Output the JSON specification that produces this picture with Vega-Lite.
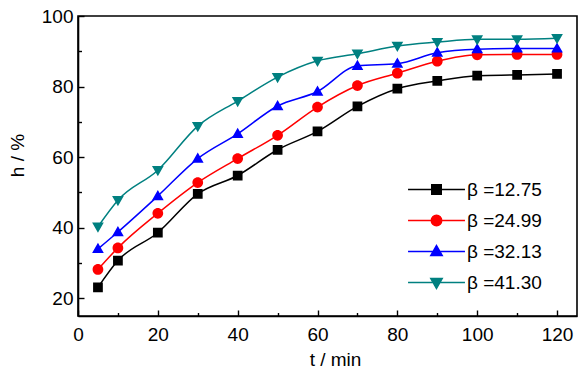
{
  "$schema": "https://vega.github.io/schema/vega-lite/v6.json",
  "autosize": {"type": "none"},
  "padding": {"left": 78, "top": 16, "right": 7, "bottom": 57},
  "width": 499,
  "height": 300,
  "background": "white",
  "config": {
    "font": "Liberation Sans",
    "view": {"stroke": "black", "strokeWidth": 1.6},
    "axis": {
      "labelFont": "Liberation Sans",
      "titleFont": "Liberation Sans",
      "labelFontSize": 19,
      "titleFontSize": 19,
      "titleFontWeight": "normal",
      "labelColor": "black",
      "titleColor": "black",
      "domainColor": "black",
      "domainWidth": 1.6,
      "tickColor": "black",
      "tickWidth": 1.4,
      "grid": false,
      "labelFlush": false,
      "labelOverlap": false
    },
    "legend": {
      "labelFont": "Liberation Sans",
      "labelFontSize": 19,
      "labelColor": "black"
    }
  },
  "data": {
    "values": [
      {"t": 5, "h": 23.1, "s": "β =12.75"},
      {"t": 10, "h": 30.7, "s": "β =12.75"},
      {"t": 20, "h": 38.6, "s": "β =12.75"},
      {"t": 30, "h": 49.6, "s": "β =12.75"},
      {"t": 40, "h": 54.8, "s": "β =12.75"},
      {"t": 50, "h": 62.1, "s": "β =12.75"},
      {"t": 60, "h": 67.3, "s": "β =12.75"},
      {"t": 70, "h": 74.4, "s": "β =12.75"},
      {"t": 80, "h": 79.4, "s": "β =12.75"},
      {"t": 90, "h": 81.6, "s": "β =12.75"},
      {"t": 100, "h": 83.1, "s": "β =12.75"},
      {"t": 110, "h": 83.3, "s": "β =12.75"},
      {"t": 120, "h": 83.6, "s": "β =12.75"},
      {"t": 5, "h": 28.2, "s": "β =24.99"},
      {"t": 10, "h": 34.3, "s": "β =24.99"},
      {"t": 20, "h": 44.1, "s": "β =24.99"},
      {"t": 30, "h": 52.8, "s": "β =24.99"},
      {"t": 40, "h": 59.6, "s": "β =24.99"},
      {"t": 50, "h": 66.2, "s": "β =24.99"},
      {"t": 60, "h": 74.2, "s": "β =24.99"},
      {"t": 70, "h": 80.3, "s": "β =24.99"},
      {"t": 80, "h": 83.8, "s": "β =24.99"},
      {"t": 90, "h": 87.2, "s": "β =24.99"},
      {"t": 100, "h": 89.0, "s": "β =24.99"},
      {"t": 110, "h": 89.1, "s": "β =24.99"},
      {"t": 120, "h": 89.1, "s": "β =24.99"},
      {"t": 5, "h": 34.0, "s": "β =32.13"},
      {"t": 10, "h": 38.8, "s": "β =32.13"},
      {"t": 20, "h": 49.0, "s": "β =32.13"},
      {"t": 30, "h": 59.6, "s": "β =32.13"},
      {"t": 40, "h": 66.6, "s": "β =32.13"},
      {"t": 50, "h": 74.5, "s": "β =32.13"},
      {"t": 60, "h": 78.6, "s": "β =32.13"},
      {"t": 70, "h": 85.9, "s": "β =32.13"},
      {"t": 80, "h": 86.5, "s": "β =32.13"},
      {"t": 90, "h": 89.6, "s": "β =32.13"},
      {"t": 100, "h": 90.6, "s": "β =32.13"},
      {"t": 110, "h": 90.8, "s": "β =32.13"},
      {"t": 120, "h": 90.8, "s": "β =32.13"},
      {"t": 5, "h": 40.3, "s": "β =41.30"},
      {"t": 10, "h": 47.8, "s": "β =41.30"},
      {"t": 20, "h": 56.3, "s": "β =41.30"},
      {"t": 30, "h": 68.8, "s": "β =41.30"},
      {"t": 40, "h": 75.9, "s": "β =41.30"},
      {"t": 50, "h": 82.7, "s": "β =41.30"},
      {"t": 60, "h": 87.3, "s": "β =41.30"},
      {"t": 70, "h": 89.3, "s": "β =41.30"},
      {"t": 80, "h": 91.5, "s": "β =41.30"},
      {"t": 90, "h": 92.6, "s": "β =41.30"},
      {"t": 100, "h": 93.4, "s": "β =41.30"},
      {"t": 110, "h": 93.4, "s": "β =41.30"},
      {"t": 120, "h": 93.7, "s": "β =41.30"}
    ]
  },
  "resolve": {"axis": {"x": "independent", "y": "independent"}},
  "layer": [
    {
      "mark": {"type": "line", "interpolate": "monotone", "strokeWidth": 1.5},
      "encoding": {
        "x": {
          "field": "t",
          "type": "quantitative",
          "scale": {"domain": [0, 125], "nice": false, "zero": false},
          "axis": {
            "orient": "bottom",
            "title": "t / min",
            "values": [0, 20, 40, 60, 80, 100, 120],
            "ticks": false,
            "labelPadding": 9,
            "titlePadding": 6,
            "titleX": 257
          }
        },
        "y": {
          "field": "h",
          "type": "quantitative",
          "scale": {"domain": [15, 100], "nice": false, "zero": false},
          "axis": {
            "orient": "left",
            "title": "h / %",
            "values": [20, 40, 60, 80, 100],
            "ticks": false,
            "labelPadding": 5,
            "titlePadding": 14,
            "titleY": 139
          }
        },
        "stroke": {
          "field": "s",
          "type": "nominal",
          "scale": {"domain": ["β =12.75", "β =24.99", "β =32.13", "β =41.30"], "range": ["#000000", "#ff0000", "#0000ff", "#008080"]},
          "legend": {
            "title": null,
            "orient": "none",
            "legendX": 349,
            "legendY": 164,
            "padding": 0,
            "symbolSize": 90,
            "labelOffset": 21,
            "rowPadding": 11,
            "symbolStrokeWidth": 1.5
          }
        }
      }
    },
    {
      "mark": {"type": "point", "filled": true, "size": 95, "strokeWidth": 0, "opacity": 1},
      "encoding": {
        "x": {
          "field": "t",
          "type": "quantitative",
          "axis": {
            "orient": "top",
            "offset": -300,
            "title": null,
            "labels": false,
            "domain": false,
            "values": [0, 10, 20, 30, 40, 50, 60, 70, 80, 90, 100, 110, 120],
            "tickSize": {"condition": {"test": "datum.value % 20 != 0", "value": 3.5}, "value": 6}
          }
        },
        "y": {
          "field": "h",
          "type": "quantitative",
          "axis": {
            "orient": "right",
            "offset": -499,
            "title": null,
            "labels": false,
            "domain": false,
            "values": [20, 30, 40, 50, 60, 70, 80, 90, 100],
            "tickSize": {"condition": {"test": "datum.value % 20 != 0", "value": 3.5}, "value": 6}
          }
        },
        "fill": {
          "field": "s",
          "type": "nominal",
          "scale": {"domain": ["β =12.75", "β =24.99", "β =32.13", "β =41.30"], "range": ["#000000", "#ff0000", "#0000ff", "#008080"]}
        },
        "shape": {
          "field": "s",
          "type": "nominal",
          "scale": {
            "domain": ["β =12.75", "β =24.99", "β =32.13", "β =41.30"],
            "range": [
              "M-6,0H6M-1,-1H1V1H-1Z",
              "M-6,0H6M1.1,0A1.1,1.1 0 1,1 -1.1,0A1.1,1.1 0 1,1 1.1,0Z",
              "M-6,0H6M0,-1.25L1.2,0.85H-1.2Z",
              "M-6,0H6M0,1.25L1.2,-0.85H-1.2Z"
            ]
          }
        }
      }
    }
  ]
}
